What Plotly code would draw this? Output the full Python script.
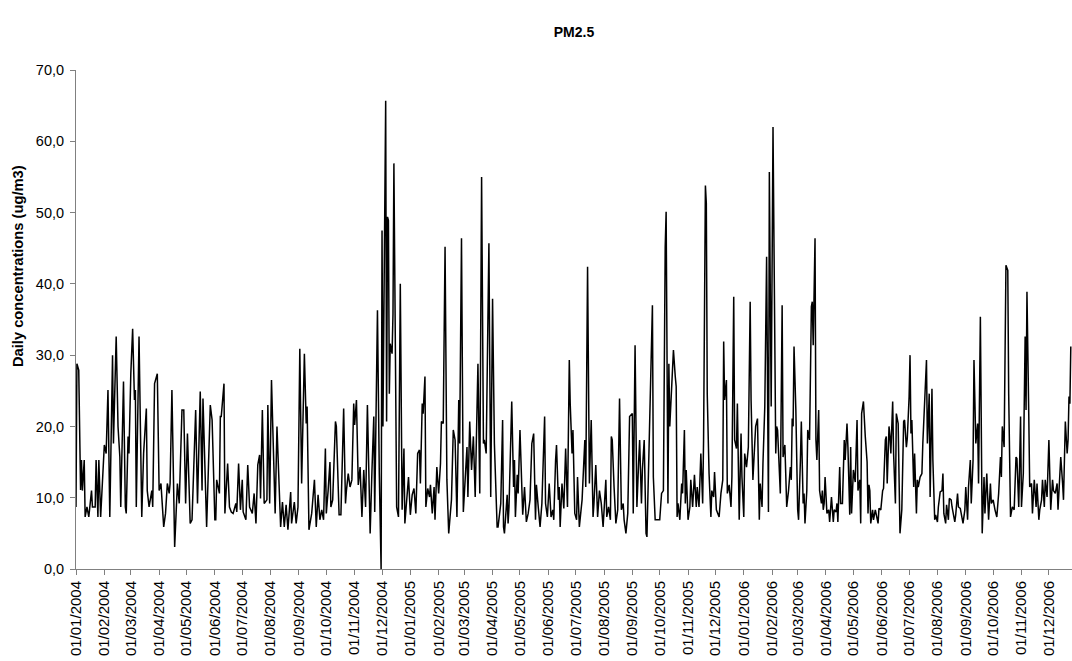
import pandas as pd
import plotly.graph_objects as go

# Days since 01/01/2004 and PM2.5 daily concentrations (ug/m3)
day_index = [
    0, 1, 3, 5, 6, 7, 9, 10, 12, 14, 17, 18, 21, 22, 24, 25, 27, 31, 33, 35, 37, 40, 41, 44, 46, 48, 49,
    52, 54, 55, 57, 58, 60, 62, 64, 65, 66, 69, 72, 74, 77, 78, 80, 83, 84, 86, 89, 91, 93, 96, 98, 100, 102,
    103, 105, 108, 111, 113, 116, 118, 120, 122, 125, 127, 131, 133, 136, 138, 139, 141, 143, 147, 149,
    152, 153, 154, 157, 158, 159, 162, 163, 166, 168, 170, 172, 175, 176, 178, 180, 182, 183, 186, 188,
    190, 193, 195, 197, 199, 201, 202, 204, 206, 209, 210, 212,
    214, 217, 218, 220, 222, 224, 226, 228, 230, 232, 235, 236, 239, 241, 243, 245, 247, 250, 252, 253,
    255, 258, 261, 263, 265, 267, 269, 271, 273, 274, 276, 278, 279, 281, 284, 285, 288, 290, 293, 295,
    296, 298, 300, 302, 304, 305, 307, 309, 311, 313, 315, 317, 319,
    322, 324, 326, 327, 330, 332, 334, 335, 336, 339, 340, 341, 342, 343, 344, 346, 347, 348, 351, 353,
    355, 357, 359, 360, 362, 364, 366, 368, 370, 372, 374, 376, 377, 379, 380, 382, 383, 385, 387, 388,
    390, 392, 393, 395, 397, 399, 400, 402, 404, 406, 408, 410, 411, 413, 415, 417, 419, 420, 422, 424,
    426, 428, 429, 431,
    433, 435, 437, 439, 440, 442, 444, 446, 447, 449, 450, 452, 454, 456, 458, 461, 462, 464, 465, 467,
    468, 469, 472, 473, 474, 477, 479, 480, 481, 483, 484, 486, 487, 489, 491, 492, 493, 495, 497, 499,
    501, 503, 504, 506, 508, 510, 511, 513, 514, 516, 518, 520, 522, 523, 525, 526, 528, 529, 530, 532,
    534, 536, 538, 540,
    541, 542, 543, 544, 546, 548, 549, 551, 554, 557, 558, 560, 562, 564, 566, 567, 569, 571, 573, 575,
    577, 580, 581, 583, 585, 586, 587, 589, 591, 593, 595, 597, 599, 600, 602, 604, 606, 609, 610, 612,
    614, 616, 617, 619, 620, 622, 624, 625, 627, 628, 631, 632, 634, 636, 639, 641, 643, 645, 646, 648,
    649,
    650, 652, 654, 656, 657, 658, 659, 661, 663, 664, 666, 667, 668, 670, 672, 673, 675, 677, 679, 680,
    682, 684, 686, 687, 689, 690, 691, 693, 695, 696, 698, 699, 701, 704, 706, 708, 709, 710, 712, 713,
    715, 717, 718, 720, 721, 723, 724, 726, 728, 729, 731, 732, 734, 736, 738, 739, 741, 743, 744, 746,
    748, 749, 751, 752, 754, 756, 758, 759,
    761, 763, 765, 766, 767, 768, 771, 773, 774, 776, 778, 780, 782, 783, 784, 785, 786, 788, 790, 791,
    793, 794, 796, 797, 798, 800, 801, 803, 805, 806, 807, 809, 810, 811, 813, 814, 816, 817, 818, 819,
    820, 822, 824, 825, 827, 829, 830, 832, 833, 834, 836, 837, 839, 841, 842, 844, 845, 847, 848, 849,
    851, 853, 855, 856, 858, 859, 860, 862, 864, 866, 867, 868,
    869, 870, 872, 873, 875, 876, 878, 879, 881, 883, 884, 886, 887, 888, 890, 891, 892, 894, 895, 897,
    898, 900, 902, 904, 906, 907, 909, 910, 912, 913, 914, 915, 917, 918, 920, 921, 922, 924, 926, 927,
    929, 931, 932, 934, 935, 937, 938, 940, 941, 943, 944, 946, 948, 949, 950, 952, 953, 955, 956, 958,
    959, 960, 962, 963, 965, 966, 968, 969, 971, 973, 974, 976, 977, 979,
    980, 982, 983, 985, 987, 988, 990, 992, 994, 995, 997, 999, 1001, 1002, 1004, 1006, 1008, 1010, 1012,
    1013, 1014, 1016, 1017, 1018, 1020, 1021, 1023, 1025, 1027, 1029, 1030, 1032, 1034, 1035, 1037, 1039,
    1040, 1041, 1043, 1044, 1046, 1047, 1049, 1051, 1052, 1054, 1055, 1057, 1058, 1060, 1061, 1063, 1065,
    1066, 1067, 1069, 1070, 1072, 1074, 1075, 1077, 1078, 1080, 1081, 1083, 1085, 1086, 1087, 1088, 1089,
]

pm25 = [
    8.7, 28.8, 27.9, 11.1, 15.3, 11.0, 15.3, 7.3, 8.7, 7.3, 11.0, 8.7, 8.7, 15.3, 7.3, 15.3, 7.3, 17.4, 16.2, 25.1, 7.3, 30.0, 17.6, 32.6, 20.0, 15.7, 8.7,
    26.3, 8.7, 7.8, 18.6, 16.2, 27.4, 33.7, 23.7, 25.1, 8.7, 32.6, 7.3, 16.2, 22.5, 11.0, 8.7, 11.0, 8.7, 26.0, 27.4, 11.0, 12.0, 5.9, 7.8, 12.0, 10.6,
    12.0, 25.1, 3.1, 12.0, 9.2, 22.3, 22.3, 9.2, 19.0, 6.4, 6.9, 22.3, 9.2, 24.9, 11.0, 23.9, 15.3, 5.9, 23.0, 20.9,
    6.9, 6.9, 12.5, 10.6, 21.4, 21.4, 26.0, 7.8, 14.8, 8.7, 8.0, 7.8, 9.2, 8.0, 14.8, 8.3, 12.5, 8.0, 6.9, 14.6,
    8.7, 7.8, 10.6, 6.4, 14.6, 16.0, 9.9, 22.3, 9.2, 9.7, 23.0, 9.2,
    26.5, 9.2, 7.8, 20.0, 11.5, 5.9, 9.4, 5.9, 9.0, 5.5, 10.8, 6.4, 9.4, 6.4, 8.7, 30.9, 12.0, 30.2, 20.4, 22.8,
    5.5, 7.8, 12.5, 5.9, 10.4, 6.9, 8.3, 6.9, 16.9, 7.8, 11.0, 15.0, 8.7, 9.7, 20.7, 20.0, 7.6, 7.6, 22.5, 9.2,
    11.0, 13.4, 11.5, 12.5, 23.2, 20.2, 23.7, 11.8, 14.3, 7.3, 13.9, 8.7, 23.0,
    5.0, 13.9, 21.4, 8.0, 36.3, 13.4, 0.0, 47.5, 20.0, 65.7, 20.7, 49.4, 48.9, 24.6, 31.6, 30.2, 35.8, 56.9, 8.7, 7.3,
    40.0, 8.3, 16.9, 6.4, 9.2, 12.9, 7.6, 10.4, 11.3, 7.8, 16.2, 16.7, 12.0, 23.2, 21.8, 27.0, 8.7, 11.3, 10.1, 11.8,
    7.8, 11.5, 6.9, 14.3, 10.6, 14.8, 20.7, 20.4, 45.2, 12.5, 5.0, 9.2, 9.7, 19.5, 18.1, 7.3, 23.7, 17.6, 46.4, 8.0,
    12.9, 17.1, 10.1, 20.7,
    13.9, 18.6, 10.1, 20.9, 28.8, 10.6, 55.0, 17.6, 18.1, 16.2, 27.4, 45.7, 10.1, 37.9, 17.6, 5.9, 5.9, 8.5, 9.2, 20.9,
    5.9, 5.0, 10.4, 6.4, 8.7, 23.5, 11.5, 15.3, 7.3, 13.2, 10.6, 19.5, 15.7, 7.6, 11.5, 7.8, 6.6, 7.8, 9.7, 17.6,
    19.0, 6.9, 11.8, 8.7, 5.9, 9.2, 13.9, 21.4, 9.2, 7.3, 12.0, 7.3, 8.3, 6.9, 15.3, 17.4, 9.7, 11.5, 5.9, 12.0,
    8.5, 16.9, 8.7, 29.3,
    23.2, 19.5, 16.2, 19.5, 7.8, 6.9, 12.9, 5.9, 9.7, 18.1, 11.5, 42.4, 12.0, 20.9, 7.3, 9.2, 14.6, 7.3, 11.0, 9.2,
    5.9, 12.5, 7.3, 8.7, 6.9, 18.6, 18.1, 11.5, 6.4, 8.3, 23.9, 8.3, 9.2, 6.9, 5.0, 7.8, 21.4, 21.8, 7.8, 31.4,
    8.7, 15.3, 18.1, 9.2, 13.9, 18.1, 5.0, 4.5, 16.2, 18.1, 37.0, 12.9, 6.9, 6.9, 6.9, 10.6, 11.0, 45.2, 50.1, 9.2,
    28.8,
    20.0, 26.5, 30.7, 27.0, 25.6, 7.3, 9.2, 6.9, 12.0, 10.6, 19.5, 9.2, 13.9, 6.9, 8.7, 12.5, 8.7, 13.2, 8.7, 11.5,
    8.7, 16.2, 9.2, 18.1, 53.8, 51.3, 24.6, 13.4, 7.3, 11.0, 10.1, 13.6, 8.3, 7.3, 10.6, 12.5, 31.9, 23.7, 26.5, 10.6,
    11.8, 8.7, 12.9, 38.2, 18.1, 16.9, 23.2, 6.9, 19.0, 12.9, 7.3, 16.2, 14.3, 17.1, 37.5, 23.7, 12.5, 17.6, 20.0, 21.1,
    6.9, 12.0, 8.7, 14.8, 22.8, 43.8, 8.0, 55.7,
    22.8, 62.0, 30.2, 16.2, 20.0, 19.5, 10.6, 37.0, 15.7, 17.4, 8.7, 11.0, 14.3, 12.5, 21.1, 20.0, 31.2, 22.3, 8.3, 6.9,
    15.3, 20.7, 9.2, 10.6, 6.4, 11.0, 19.5, 18.1, 36.8, 37.5, 31.4, 46.4, 18.1, 15.3, 22.3, 11.0, 9.2, 11.0, 8.3, 9.2,
    12.9, 7.8, 8.3, 6.6, 10.1, 6.6, 8.3, 8.0, 9.2, 6.6, 14.3, 9.2, 9.2, 18.1, 15.3, 20.4, 17.1, 7.6, 17.1, 7.8,
    13.9, 12.2, 20.9, 11.0, 12.5, 6.4, 21.8, 23.5, 18.6, 15.0, 7.8, 11.8,
    11.0, 6.4, 8.3, 6.9, 8.3, 7.8, 6.4, 8.5, 8.3, 11.0, 11.3, 18.1, 18.6, 12.0, 20.0, 18.6, 16.2, 23.5, 16.2, 9.2,
    21.8, 20.4, 5.0, 8.3, 20.7, 20.9, 17.1, 18.3, 24.2, 30.0, 19.0, 20.9, 11.5, 16.2, 7.8, 12.5, 11.5, 12.9, 13.4, 17.6,
    24.6, 29.3, 17.6, 24.6, 10.1, 25.3, 15.3, 6.9, 7.6, 6.6, 8.7, 10.8, 11.0, 13.4, 7.8, 6.4, 9.0, 6.9, 9.9, 9.7,
    8.7, 7.8, 6.6, 7.6, 10.6, 8.7, 8.5, 7.8, 6.4, 8.3, 11.5, 6.9, 11.5, 15.3,
    9.2, 15.3, 29.3, 17.6, 20.4, 12.0, 35.4, 5.0, 12.9, 7.8, 13.4, 6.9, 12.0, 9.2, 9.7, 8.3, 7.3, 10.6, 15.7,
    12.9, 20.0, 17.1, 26.5, 42.6, 41.9, 24.6, 7.3, 8.7, 8.3, 15.7, 15.5, 8.7, 21.4, 8.7, 13.4, 32.6,
    22.3, 38.9, 21.4, 11.5, 12.0, 7.8, 12.5, 8.7, 12.0, 6.9, 8.3, 9.7, 12.5, 8.7, 12.5, 10.1, 18.1,
    11.5, 8.3, 12.5, 11.0, 10.6, 12.0, 8.3, 12.9, 15.7, 12.0, 9.7, 20.7, 16.2, 18.1, 24.2, 23.2, 31.2,
]

start_date = pd.Timestamp("2004-01-01")
dates = start_date + pd.to_timedelta(day_index, unit="D")

title_text = "PM2.5"
y_title = "Daily concentrations (ug/m3)"

font_family = "Liberation Sans, Arial, sans-serif"

W, H = 1072, 661

fig = go.Figure()
fig.add_trace(go.Scatter(
    x=dates, y=pm25, mode="lines",
    line=dict(color="black", width=1.5),
    showlegend=False, hoverinfo="x+y",
))

x_end = start_date + pd.Timedelta(days=1090.3)

fig.update_layout(
    width=W, height=H,
    margin=dict(l=76, r=0, t=70, b=92),
    paper_bgcolor="white", plot_bgcolor="white",
    separators=",.",
    font=dict(family=font_family, size=14.5, color="black"),
    title=dict(text="<b>" + title_text + "</b>", x=0.5, xref="paper",
               y=1 - 32 / H, yref="container", yanchor="middle",
               font=dict(family=font_family, size=14, color="black")),
    xaxis=dict(
        type="date", range=[start_date, x_end],
        tick0="2004-01-01", dtick="M1", tickformat="%d/%m/%Y",
        tickangle=-90, ticks="outside", ticklen=5, tickcolor="#808080",
        showline=True, linecolor="#808080", linewidth=1,
        showgrid=False, zeroline=False,
        tickfont=dict(family=font_family, size=15, color="black"),
    ),
    yaxis=dict(
        range=[0, 70], tick0=0, dtick=10, tickformat=".1f",
        ticks="outside", ticklen=5, tickcolor="#808080",
        showline=True, linecolor="#808080", linewidth=1,
        showgrid=False, zeroline=False, ticklabelstandoff=3,
        tickfont=dict(family=font_family, size=14.5, color="black"),
    ),
    annotations=[dict(
        text="<b>" + y_title + "</b>", textangle=-90,
        xref="paper", yref="paper", x=0, y=(569 - 266) / 499,
        xanchor="center", yanchor="middle", xshift=-58, showarrow=False,
        font=dict(family=font_family, size=14.7, color="black"),
    )],
)

fig.write_html(
    "out.html",
    config={"displayModeBar": False},
    post_script="document.body.style.margin='0';document.body.style.overflow='hidden';",
)
